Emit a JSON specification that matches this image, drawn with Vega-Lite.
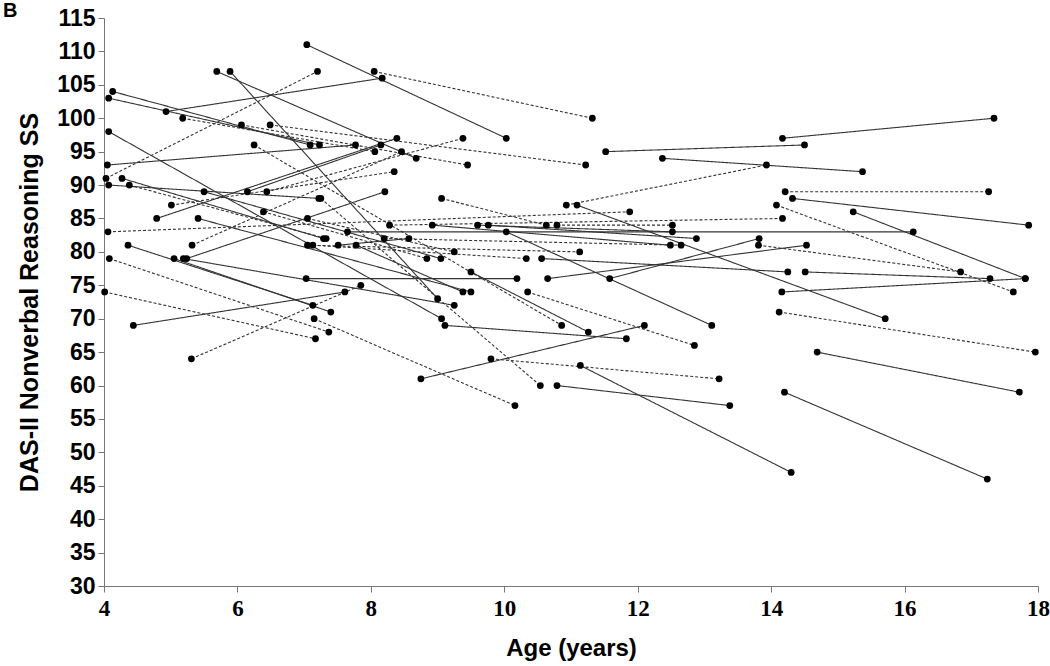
{
"$schema":"https://vega.github.io/schema/vega-lite/v6.json",
"width":934,"height":568,
"autosize":"none",
"padding":{"left":104,"top":18,"right":12,"bottom":80},
"background":"white",
"config":{"view":{"stroke":null},"font":"Liberation Sans"},
"datasets":{"segs":[
{"id":1,"s":"solid","age":7.04,"ss":111},{"id":1,"s":"solid","age":10.03,"ss":97},
{"id":2,"s":"dashed","age":4.03,"ss":91},{"id":2,"s":"dashed","age":7.2,"ss":107},
{"id":3,"s":"dashed","age":8.05,"ss":107},{"id":3,"s":"dashed","age":11.32,"ss":100},
{"id":4,"s":"solid","age":4.93,"ss":101},{"id":4,"s":"solid","age":8.17,"ss":106},
{"id":5,"s":"solid","age":4.13,"ss":104},{"id":5,"s":"solid","age":7.09,"ss":96},
{"id":6,"s":"solid","age":4.07,"ss":103},{"id":6,"s":"solid","age":7.23,"ss":96},
{"id":7,"s":"solid","age":4.05,"ss":93},{"id":7,"s":"solid","age":7.77,"ss":96},
{"id":8,"s":"solid","age":4.79,"ss":85},{"id":8,"s":"solid","age":8.39,"ss":97},
{"id":9,"s":"solid","age":4.07,"ss":90},{"id":9,"s":"solid","age":7.22,"ss":88},
{"id":10,"s":"solid","age":11.52,"ss":95},{"id":10,"s":"solid","age":14.5,"ss":96},
{"id":11,"s":"solid","age":14.17,"ss":97},{"id":11,"s":"solid","age":17.34,"ss":100},
{"id":12,"s":"solid","age":12.37,"ss":94},{"id":12,"s":"solid","age":15.37,"ss":92},
{"id":13,"s":"dashed","age":10.93,"ss":87},{"id":13,"s":"dashed","age":13.93,"ss":93},
{"id":14,"s":"dashed","age":14.21,"ss":89},{"id":14,"s":"dashed","age":17.26,"ss":89},
{"id":15,"s":"solid","age":14.32,"ss":88},{"id":15,"s":"solid","age":17.86,"ss":84},
{"id":16,"s":"dashed","age":14.08,"ss":87},{"id":16,"s":"dashed","age":17.63,"ss":74},
{"id":17,"s":"solid","age":15.23,"ss":86},{"id":17,"s":"solid","age":17.81,"ss":76},
{"id":18,"s":"solid","age":14.16,"ss":74},{"id":18,"s":"solid","age":17.81,"ss":76},
{"id":19,"s":"solid","age":14.51,"ss":77},{"id":19,"s":"solid","age":17.28,"ss":76},
{"id":20,"s":"dashed","age":13.81,"ss":81},{"id":20,"s":"dashed","age":16.84,"ss":77},
{"id":21,"s":"dashed","age":14.12,"ss":71},{"id":21,"s":"dashed","age":17.96,"ss":65},
{"id":22,"s":"solid","age":14.69,"ss":65},{"id":22,"s":"solid","age":17.72,"ss":59},
{"id":23,"s":"solid","age":14.2,"ss":59},{"id":23,"s":"solid","age":17.24,"ss":46},
{"id":24,"s":"solid","age":11.14,"ss":63},{"id":24,"s":"solid","age":14.3,"ss":47},
{"id":25,"s":"dashed","age":9.8,"ss":64},{"id":25,"s":"dashed","age":13.22,"ss":61},
{"id":26,"s":"solid","age":8.75,"ss":61},{"id":26,"s":"solid","age":12.1,"ss":69},
{"id":27,"s":"solid","age":10.79,"ss":60},{"id":27,"s":"solid","age":13.38,"ss":57},
{"id":28,"s":"dashed","age":4.01,"ss":74},{"id":28,"s":"dashed","age":7.17,"ss":67},
{"id":29,"s":"solid","age":10.03,"ss":83},{"id":29,"s":"solid","age":13.11,"ss":69},
{"id":30,"s":"dashed","age":10.35,"ss":74},{"id":30,"s":"dashed","age":12.85,"ss":66},
{"id":31,"s":"solid","age":7.03,"ss":76},{"id":31,"s":"solid","age":10.19,"ss":76},
{"id":32,"s":"solid","age":5.69,"ss":107},{"id":32,"s":"solid","age":8.68,"ss":94},
{"id":33,"s":"solid","age":5.89,"ss":107},{"id":33,"s":"solid","age":9.0,"ss":73},
{"id":34,"s":"solid","age":4.07,"ss":98},{"id":34,"s":"solid","age":9.06,"ss":70},
{"id":35,"s":"dashed","age":5.18,"ss":100},{"id":35,"s":"dashed","age":8.06,"ss":95},
{"id":36,"s":"dashed","age":6.06,"ss":99},{"id":36,"s":"dashed","age":9.45,"ss":93},
{"id":37,"s":"dashed","age":6.49,"ss":99},{"id":37,"s":"dashed","age":11.22,"ss":93},
{"id":38,"s":"dashed","age":6.25,"ss":96},{"id":38,"s":"dashed","age":10.86,"ss":69},
{"id":39,"s":"solid","age":4.27,"ss":91},{"id":39,"s":"solid","age":7.29,"ss":82},
{"id":40,"s":"dashed","age":4.38,"ss":90},{"id":40,"s":"dashed","age":7.33,"ss":82},
{"id":41,"s":"dashed","age":5.01,"ss":87},{"id":41,"s":"dashed","age":8.35,"ss":92},
{"id":42,"s":"solid","age":5.41,"ss":85},{"id":42,"s":"solid","age":9.5,"ss":74},
{"id":43,"s":"dashed","age":4.06,"ss":83},{"id":43,"s":"dashed","age":11.88,"ss":86},
{"id":44,"s":"solid","age":7.65,"ss":83},{"id":44,"s":"solid","age":16.13,"ss":83},
{"id":45,"s":"solid","age":4.36,"ss":81},{"id":45,"s":"solid","age":7.13,"ss":72},
{"id":46,"s":"dashed","age":5.32,"ss":81},{"id":46,"s":"dashed","age":8.46,"ss":95},
{"id":47,"s":"dashed","age":4.08,"ss":79},{"id":47,"s":"dashed","age":7.37,"ss":68},
{"id":48,"s":"solid","age":5.05,"ss":79},{"id":48,"s":"solid","age":7.4,"ss":71},
{"id":49,"s":"solid","age":5.24,"ss":79},{"id":49,"s":"solid","age":8.21,"ss":89},
{"id":50,"s":"solid","age":5.19,"ss":79},{"id":50,"s":"solid","age":9.25,"ss":72},
{"id":51,"s":"dashed","age":7.15,"ss":70},{"id":51,"s":"dashed","age":10.16,"ss":57},
{"id":52,"s":"solid","age":11.09,"ss":87},{"id":52,"s":"solid","age":15.71,"ss":70},
{"id":53,"s":"solid","age":9.6,"ss":84},{"id":53,"s":"solid","age":12.52,"ss":83},
{"id":54,"s":"dashed","age":10.79,"ss":84},{"id":54,"s":"dashed","age":12.52,"ss":84},
{"id":55,"s":"dashed","age":8.28,"ss":84},{"id":55,"s":"dashed","age":14.17,"ss":85},
{"id":56,"s":"solid","age":4.44,"ss":69},{"id":56,"s":"solid","age":7.61,"ss":74},
{"id":57,"s":"dashed","age":5.31,"ss":64},{"id":57,"s":"dashed","age":7.85,"ss":75},
{"id":58,"s":"dashed","age":6.44,"ss":89},{"id":58,"s":"dashed","age":9.38,"ss":97},
{"id":59,"s":"solid","age":6.15,"ss":89},{"id":59,"s":"solid","age":8.15,"ss":96},
{"id":60,"s":"dashed","age":7.25,"ss":88},{"id":60,"s":"dashed","age":10.54,"ss":60},
{"id":61,"s":"solid","age":9.11,"ss":69},{"id":61,"s":"solid","age":11.83,"ss":67},
{"id":62,"s":"solid","age":9.5,"ss":77},{"id":62,"s":"solid","age":11.26,"ss":68},
{"id":63,"s":"solid","age":10.56,"ss":79},{"id":63,"s":"solid","age":14.25,"ss":77},
{"id":64,"s":"solid","age":10.65,"ss":76},{"id":64,"s":"solid","age":14.53,"ss":81},
{"id":65,"s":"solid","age":11.58,"ss":76},{"id":65,"s":"solid","age":13.82,"ss":82},
{"id":66,"s":"solid","age":5.5,"ss":89},{"id":66,"s":"solid","age":9.05,"ss":79},
{"id":67,"s":"dashed","age":6.39,"ss":86},{"id":67,"s":"dashed","age":8.84,"ss":79},
{"id":68,"s":"dashed","age":7.05,"ss":85},{"id":68,"s":"dashed","age":9.25,"ss":80},
{"id":69,"s":"dashed","age":7.05,"ss":81},{"id":69,"s":"dashed","age":11.13,"ss":80},
{"id":70,"s":"dashed","age":7.13,"ss":81},{"id":70,"s":"dashed","age":10.33,"ss":79},
{"id":71,"s":"solid","age":7.51,"ss":81},{"id":71,"s":"solid","age":8.57,"ss":82},
{"id":72,"s":"solid","age":7.78,"ss":81},{"id":72,"s":"solid","age":9.38,"ss":74},
{"id":73,"s":"dashed","age":8.2,"ss":82},{"id":73,"s":"dashed","age":12.65,"ss":81},
{"id":74,"s":"solid","age":8.92,"ss":84},{"id":74,"s":"solid","age":12.49,"ss":81},
{"id":75,"s":"solid","age":9.76,"ss":84},{"id":75,"s":"solid","age":12.88,"ss":82},
{"id":76,"s":"dashed","age":9.06,"ss":88},{"id":76,"s":"dashed","age":10.63,"ss":84}
],"panel":[{"label":"B","age":4,"ss":115}]},
"encoding":{
 "x":{"field":"age","type":"quantitative","scale":{"domain":[4,18],"nice":false,"zero":false},
  "axis":{"title":"Age (years)","values":[4,6,8,10,12,14,16,18],"format":"d","grid":false,"domainColor":"#777","tickColor":"#777","tickSize":6,"labelFontSize":23,"labelFontWeight":"bold","labelColor":"black","labelFont":"Liberation Sans Narrow","labelPadding":5,"titleFontSize":24,"titleFontWeight":"bold","titleColor":"black","titlePadding":16,"labelFlush":false}},
 "y":{"field":"ss","type":"quantitative","scale":{"domain":[30,115],"nice":false,"zero":false},
  "axis":{"title":"DAS-II Nonverbal Reasoning SS","values":[30,35,40,45,50,55,60,65,70,75,80,85,90,95,100,105,110,115],"format":"d","grid":false,"domainColor":"#777","tickColor":"#777","tickSize":6,"labelFontSize":23,"labelFontWeight":"bold","labelColor":"black","labelPadding":3,"titleFontSize":25,"titleFontWeight":"bold","titleColor":"black","titlePadding":14}}
},
"layer":[
 {"data":{"name":"segs"},
  "mark":{"type":"line","strokeWidth":1.1,"color":"#333"},
  "encoding":{
   "detail":{"field":"id"},
   "strokeDash":{"field":"s","type":"nominal","scale":{"domain":["solid","dashed"],"range":[[1,0],[3,2]]},"legend":null}}},
 {"data":{"name":"segs"},
  "mark":{"type":"circle","size":46,"color":"black","opacity":1}},
 {"data":{"name":"panel"},
  "mark":{"type":"text","fontSize":20,"fontWeight":"bold","font":"Liberation Sans","align":"left","baseline":"bottom","dx":-101,"dy":3,"color":"black","clip":false},
  "encoding":{"text":{"field":"label"}}}
]
}
